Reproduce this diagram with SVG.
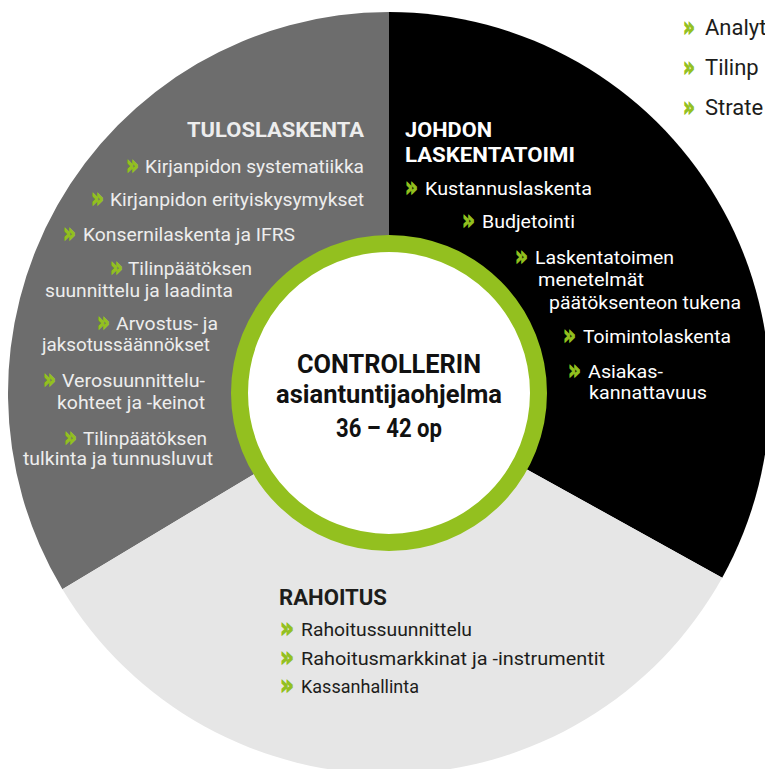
<svg xmlns="http://www.w3.org/2000/svg" width="765" height="769" viewBox="0 0 765 769">
  <style>
    text { font-family: Roboto, "Liberation Sans", sans-serif; }
    .h { font-weight: bold; font-size: 19.5px; }
    .it { font-size: 17.5px; }
    .chev { font-family: "DejaVu Sans", Roboto, sans-serif; font-weight: bold; font-size: 27px; fill: #93c01f; stroke: #93c01f; stroke-width: 1.1; }
    .lg { fill: #ededed; }
    .wh { fill: #ffffff; }
    .dk { fill: #1d1d1b; }
    .ctr { font-weight: bold; font-size: 25px; fill: #111111; }
    .rh { font-size: 18.5px; }
    .tr { font-size: 22px; }
  </style>
  <rect width="765" height="769" fill="#ffffff"/>

  <g id="top-right-list">
    <text class="chev" x="683" y="36" textLength="12" lengthAdjust="spacingAndGlyphs">»</text>
    <text class="tr dk" x="705" y="35">Analyt</text>
    <text class="chev" x="683" y="76" textLength="12" lengthAdjust="spacingAndGlyphs">»</text>
    <text class="tr dk" x="705" y="75">Tilinp</text>
    <text class="chev" x="683" y="116" textLength="12" lengthAdjust="spacingAndGlyphs">»</text>
    <text class="tr dk" x="705" y="115">Strate</text>
  </g>

  <g id="tuloslaskenta">
    <path d="M389,393 L62.4,589.2 A381,381 0 0 1 389,12 Z" fill="#6d6d6d"/>
    <text class="h lg" x="187" y="137" textLength="177" lengthAdjust="spacingAndGlyphs">TULOSLASKENTA</text>
    <text class="chev" x="126" y="174" textLength="13" lengthAdjust="spacingAndGlyphs">»</text>
    <text class="it lg" x="145" y="173" textLength="219" lengthAdjust="spacingAndGlyphs">Kirjanpidon systematiikka</text>
    <text class="chev" x="91" y="207" textLength="13" lengthAdjust="spacingAndGlyphs">»</text>
    <text class="it lg" x="110" y="206" textLength="254" lengthAdjust="spacingAndGlyphs">Kirjanpidon erityiskysymykset</text>
    <text class="chev" x="63" y="242" textLength="13" lengthAdjust="spacingAndGlyphs">»</text>
    <text class="it lg" x="83" y="241" textLength="212" lengthAdjust="spacingAndGlyphs">Konsernilaskenta ja IFRS</text>
    <text class="chev" x="110" y="276" textLength="13" lengthAdjust="spacingAndGlyphs">»</text>
    <text class="it lg" x="128" y="275" textLength="124" lengthAdjust="spacingAndGlyphs">Tilinpäätöksen</text>
    <text class="it lg" x="45" y="297" textLength="188" lengthAdjust="spacingAndGlyphs">suunnittelu ja laadinta</text>
    <text class="chev" x="97" y="331" textLength="13" lengthAdjust="spacingAndGlyphs">»</text>
    <text class="it lg" x="116" y="330" textLength="102" lengthAdjust="spacingAndGlyphs">Arvostus- ja</text>
    <text class="it lg" x="42" y="351" textLength="168" lengthAdjust="spacingAndGlyphs">jaksotussäännökset</text>
    <text class="chev" x="43" y="388" textLength="13" lengthAdjust="spacingAndGlyphs">»</text>
    <text class="it lg" x="62" y="387" textLength="143" lengthAdjust="spacingAndGlyphs">Verosuunnittelu-</text>
    <text class="it lg" x="57" y="409" textLength="148" lengthAdjust="spacingAndGlyphs">kohteet ja -keinot</text>
    <text class="chev" x="64" y="446" textLength="13" lengthAdjust="spacingAndGlyphs">»</text>
    <text class="it lg" x="83" y="445" textLength="124" lengthAdjust="spacingAndGlyphs">Tilinpäätöksen</text>
    <text class="it lg" x="23" y="465" textLength="190" lengthAdjust="spacingAndGlyphs">tulkinta ja tunnusluvut</text>
  </g>

  <g id="johdon-laskentatoimi">
    <path d="M389,393 L389,12 A381,381 0 0 1 722.2,577.7 Z" fill="#000000"/>
    <text class="h wh" x="405" y="137" textLength="87" lengthAdjust="spacingAndGlyphs">JOHDON</text>
    <text class="h wh" x="405" y="162" textLength="170" lengthAdjust="spacingAndGlyphs">LASKENTATOIMI</text>
    <text class="chev" x="405" y="196" textLength="13" lengthAdjust="spacingAndGlyphs">»</text>
    <text class="it wh" x="425" y="195" textLength="167" lengthAdjust="spacingAndGlyphs">Kustannuslaskenta</text>
    <text class="chev" x="462" y="229" textLength="13" lengthAdjust="spacingAndGlyphs">»</text>
    <text class="it wh" x="482" y="228" textLength="93" lengthAdjust="spacingAndGlyphs">Budjetointi</text>
    <text class="chev" x="515" y="265" textLength="13" lengthAdjust="spacingAndGlyphs">»</text>
    <text class="it wh" x="535" y="264" textLength="139" lengthAdjust="spacingAndGlyphs">Laskentatoimen</text>
    <text class="it wh" x="538" y="286" textLength="106" lengthAdjust="spacingAndGlyphs">menetelmät</text>
    <text class="it wh" x="549" y="309" textLength="192" lengthAdjust="spacingAndGlyphs">päätöksenteon tukena</text>
    <text class="chev" x="563" y="344" textLength="13" lengthAdjust="spacingAndGlyphs">»</text>
    <text class="it wh" x="583" y="343" textLength="148" lengthAdjust="spacingAndGlyphs">Toimintolaskenta</text>
    <text class="chev" x="568" y="379" textLength="13" lengthAdjust="spacingAndGlyphs">»</text>
    <text class="it wh" x="588" y="378" textLength="75" lengthAdjust="spacingAndGlyphs">Asiakas-</text>
    <text class="it wh" x="589" y="399" textLength="118" lengthAdjust="spacingAndGlyphs">kannattavuus</text>
  </g>

  <g id="rahoitus">
    <path d="M389,393 L722.2,577.7 A381,381 0 0 1 62.4,589.2 Z" fill="#e6e6e6"/>
    <text class="dk" x="279" y="605" font-weight="bold" font-size="22" textLength="108" lengthAdjust="spacingAndGlyphs">RAHOITUS</text>
    <text class="chev" x="280" y="637" textLength="14" lengthAdjust="spacingAndGlyphs">»</text>
    <text class="rh dk" x="301" y="636" textLength="171" lengthAdjust="spacingAndGlyphs">Rahoitussuunnittelu</text>
    <text class="chev" x="280" y="666" textLength="14" lengthAdjust="spacingAndGlyphs">»</text>
    <text class="rh dk" x="301" y="665" textLength="304" lengthAdjust="spacingAndGlyphs">Rahoitusmarkkinat ja -instrumentit</text>
    <text class="chev" x="280" y="694" textLength="14" lengthAdjust="spacingAndGlyphs">»</text>
    <text class="rh dk" x="301" y="693" textLength="118" lengthAdjust="spacingAndGlyphs">Kassanhallinta</text>
  </g>

  <g id="center">
    <circle cx="389" cy="393" r="149.5" fill="#ffffff" stroke="#93c01f" stroke-width="17"/>
    <text class="ctr" x="389" y="373" text-anchor="middle" textLength="184" lengthAdjust="spacingAndGlyphs">CONTROLLERIN</text>
    <text class="ctr" x="389" y="403" text-anchor="middle" textLength="226" lengthAdjust="spacingAndGlyphs">asiantuntijaohjelma</text>
    <text class="ctr" x="389" y="437" text-anchor="middle" textLength="106" lengthAdjust="spacingAndGlyphs">36 – 42 op</text>
  </g>

  <g id="connectors"/>
</svg>
